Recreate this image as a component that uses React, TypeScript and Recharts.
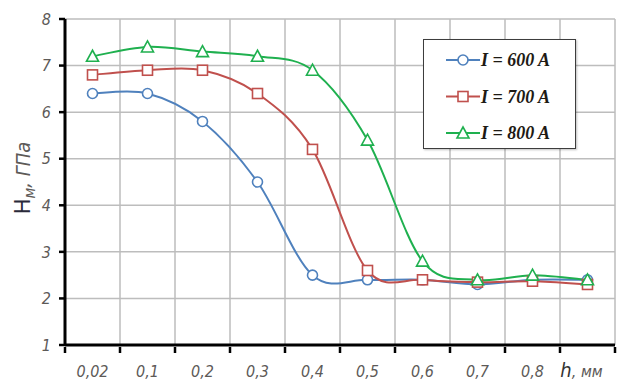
import React from "react"
import { LineChart, Line, XAxis, YAxis, CartesianGrid } from "recharts"

// thickness (mm) categories, last band carries the axis title
const categories = ["0,02", "0,1", "0,2", "0,3", "0,4", "0,5", "0,6", "0,7", "0,8", ""]
const i600 = [6.4, 6.4, 5.8, 4.5, 2.5, 2.4, 2.4, 2.3, 2.4, 2.4]
const i700 = [6.8, 6.9, 6.9, 6.4, 5.2, 2.6, 2.4, 2.35, 2.37, 2.3]
const i800 = [7.2, 7.4, 7.3, 7.2, 6.9, 5.4, 2.8, 2.4, 2.5, 2.4]
const yTicks = [1, 2, 3, 4, 5, 6, 7, 8]
const seriesNames = ["I = 600 A", "I = 700 A", "I = 800 A"]

const data = categories.map((h, i) => ({ h, a: i600[i], b: i700[i], c: i800[i] }))

const W = 618
const H = 382
const PLOT_W = 550
const BAND = PLOT_W / categories.length
const TICK_FONT = "'Liberation Sans Narrow', 'DejaVu Sans Condensed', sans-serif"
const TICK_COLOR = "#5d5a58"

// Excel-like smoothed line (Catmull-Rom, control points at 1/6 of the tangent)
function excelCurve(context: any) {
  let pts: number[][] = []
  return {
    areaStart() {},
    areaEnd() {},
    lineStart() {
      pts = []
    },
    lineEnd() {
      const n = pts.length
      if (!n) return
      context.moveTo(pts[0][0], pts[0][1])
      for (let i = 0; i < n - 1; i++) {
        const p0 = pts[Math.max(i - 1, 0)]
        const p1 = pts[i]
        const p2 = pts[i + 1]
        const p3 = pts[Math.min(i + 2, n - 1)]
        context.bezierCurveTo(
          p1[0] + (p2[0] - p0[0]) / 6,
          p1[1] + (p2[1] - p0[1]) / 6,
          p2[0] - (p3[0] - p1[0]) / 6,
          p2[1] - (p3[1] - p1[1]) / 6,
          p2[0],
          p2[1]
        )
      }
    },
    point(x: number, y: number) {
      pts.push([+x, +y])
    },
  }
}

const Circle = ({ cx, cy, color }: any) => (
  <circle cx={cx} cy={cy} r={5} fill="#fff" stroke={color} strokeWidth={1.6} />
)
const Square = ({ cx, cy, color }: any) => (
  <rect x={cx - 5} y={cy - 5} width={10} height={10} fill="#fff" stroke={color} strokeWidth={1.6} />
)
const Triangle = ({ cx, cy, color }: any) => (
  <polygon
    points={`${cx},${cy - 6} ${cx + 6},${cy + 5} ${cx - 6},${cy + 5}`}
    fill="#fff"
    stroke={color}
    strokeWidth={1.6}
  />
)

const colors = ["#4f81bd", "#c0504d", "#1fb04f"]
const markers = [Circle, Square, Triangle]

const XTick = ({ x, y, payload, index }: any) => {
  const axisY = y
  return (
    <g>
      <line x1={x - BAND / 2} x2={x - BAND / 2} y1={axisY} y2={axisY + 6} stroke="#000" strokeWidth={2.5} />
      {index === categories.length - 1 && (
        <line x1={x + BAND / 2} x2={x + BAND / 2} y1={axisY} y2={axisY + 6} stroke="#000" strokeWidth={2.5} />
      )}
      {payload.value ? (
        <text
          x={x}
          y={axisY + 30}
          textAnchor="middle"
          fontFamily={TICK_FONT}
          fontStyle="italic"
          fontSize={16}
          fill={TICK_COLOR}
        >
          {payload.value}
        </text>
      ) : (
        <text x={x - 6} y={axisY + 30} textAnchor="middle" fontFamily={TICK_FONT} fill={TICK_COLOR}>
          <tspan fontSize={20} fontStyle="italic" fill="#333">h</tspan>
          <tspan fontSize={16} fontStyle="italic">,  мм</tspan>
        </text>
      )}
    </g>
  )
}

const YLabel = () => (
  <text transform="rotate(-90, 30, 178)" x={30} y={178} textAnchor="middle" fontFamily={TICK_FONT} fill={TICK_COLOR}>
    <tspan fontSize={21} fill="#2a2a3a" fontFamily="'DejaVu Sans', sans-serif">H</tspan>
    <tspan fontSize={16} fontStyle="italic" dy={5}>м</tspan>
    <tspan fontSize={20} fontStyle="italic" dy={-5}>,  ГПа</tspan>
  </text>
)

const LegendBox = () => (
  <div
    style={{
      position: "absolute",
      left: 423,
      top: 39,
      width: 151,
      height: 108,
      border: "1.5px solid #3d3d3d",
      background: "#fff",
      boxShadow: "1px 1px 2px rgba(0,0,0,0.25)",
    }}
  >
    <svg width={151} height={108} style={{ display: "block" }}>
      {seriesNames.map((name, i) => {
        const y = 20 + i * 36.5
        const M = markers[i]
        return (
          <g key={name}>
            <line x1={22} x2={56} y1={y} y2={y} stroke={colors[i]} strokeWidth={2} />
            <M cx={39} cy={y} color={colors[i]} />
            <text
              x={57}
              y={y + 6}
              fontFamily="'Liberation Serif', 'Times New Roman', serif"
              fontWeight="bold"
              fontStyle="italic"
              fontSize={18}
              fill="#1e1a14"
            >
              {name}
            </text>
          </g>
        )
      })}
    </svg>
  </div>
)

export default function App() {
  const keys = ["a", "b", "c"]
  return (
    <div style={{ position: "absolute", left: 0, top: 0, width: W, height: H, background: "#fff" }}>
      <LineChart width={W} height={H} data={data} margin={{ top: 19, right: 3, left: 0, bottom: 0 }}>
        <CartesianGrid
          stroke="#bdbdbd"
          strokeWidth={1.5}
          verticalCoordinatesGenerator={({ offset }: any) =>
            categories.map((_, i) => offset.left + ((i + 1) * offset.width) / categories.length)
          }
        />
        <XAxis
          dataKey="h"
          scale="band"
          height={37}
          interval={0}
          tickLine={false}
          tickSize={0}
          axisLine={{ stroke: "#000", strokeWidth: 3 }}
          tick={<XTick />}
        />
        <YAxis
          width={65}
          domain={[1, 8]}
          ticks={yTicks}
          interval={0}
          tickSize={6}
          tickMargin={8}
          axisLine={{ stroke: "#000", strokeWidth: 3 }}
          tickLine={{ stroke: "#000", strokeWidth: 2.5 }}
          tick={{ fontFamily: TICK_FONT, fontStyle: "italic", fontSize: 16, fill: TICK_COLOR }}
          label={{ content: () => <YLabel /> }}
        />
        {keys.map((k, i) => {
          const M = markers[i]
          return (
            <Line
              key={k}
              dataKey={k}
              name={seriesNames[i]}
              type={excelCurve as any}
              stroke={colors[i]}
              strokeWidth={2}
              dot={(p: any) => <M key={p.index} cx={p.cx} cy={p.cy} color={colors[i]} />}
              activeDot={false}
              isAnimationActive={false}
            />
          )
        })}
      </LineChart>
      <LegendBox />
    </div>
  )
}
